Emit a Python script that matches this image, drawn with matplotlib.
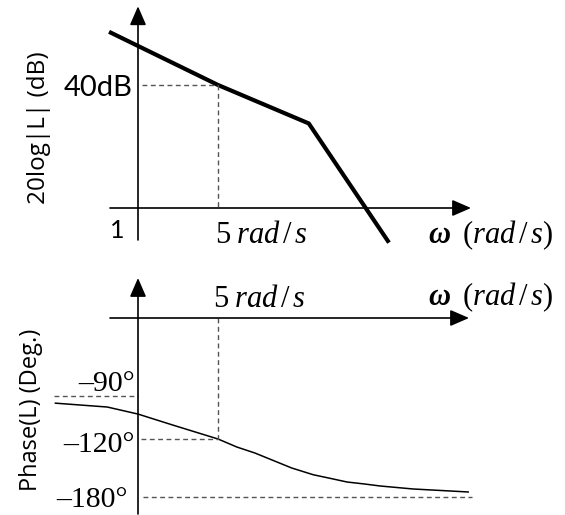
import numpy as np
import matplotlib
matplotlib.use("Agg")
import matplotlib.pyplot as plt

plt.rcParams['mathtext.fontset'] = 'custom'
plt.rcParams['mathtext.rm'] = 'Liberation Serif'
plt.rcParams['mathtext.it'] = 'Liberation Serif:italic'
plt.rcParams['mathtext.bf'] = 'Liberation Serif:bold:italic'

# ---------------- data ----------------
mag_w = [0.58, 5, 31, 152]            # rad/s
mag_db = [57, 40, 27.5, -10.7]        # dB

phase_w = [0.19, 0.54, 1, 2.0, 5, 7.3, 10.5, 22, 34, 46, 67, 96, 130, 252, 765]
phase_deg = [-95, -97.7, -102.6, -110.2, -120, -128.3, -134.5, -150, -157,
             -160.3, -164.5, -166.6, -168.6, -171.7, -174.8]

mark_w = 5            # rad/s
mark_db = 40          # dB
mark_phase = -120     # deg
phase_levels = [-90, -120, -180]
phase_labels = ['\u201390\u00b0', '\u2013120\u00b0', '\u2013180\u00b0']

# ---------------- layout ----------------
W, H = 565, 515
fig = plt.figure(figsize=(W / 100, H / 100), dpi=100)

def px(x, y):
    return x / W, 1 - y / H

X0 = 138.0        # pixel of w = 1
PPD = 114.5       # pixels per decade
def w_at(xpix):
    return 10 ** ((xpix - X0) / PPD)

xlim = (w_at(0), w_at(W))

# magnitude panel: pixel rows 0..260
ax1 = fig.add_axes([0, 1 - 260 / H, 1, 260 / H])
ax1.set_xscale('log')
ax1.set_xlim(*xlim)
DB0, PPDB = 208.0, 3.075
ax1.set_ylim(-(260 - DB0) / PPDB, DB0 / PPDB)
ax1.axis('off')

# phase panel: pixel rows 260..515, nonlinear schematic scale
ax2 = fig.add_axes([0, 0, 1, 255 / H])
ax2.set_xscale('log')
ax2.set_xlim(*xlim)
anc_deg = np.array([-1180.0, -180, -120, -90, 0, 1090])
anc_pos = np.array([-179 - 1000 * 58 / 60, -179, -121, -78, 0, 1090 * 78 / 90])
fwd = lambda d: np.interp(d, anc_deg, anc_pos)
inv = lambda p: np.interp(p, anc_pos, anc_deg)
ax2.set_yscale('function', functions=(fwd, inv))
ax2.set_ylim(inv(-197), inv(58))
ax2.axis('off')

arrow = dict(arrowstyle='-|>,head_length=1.15,head_width=0.5', mutation_scale=10,
             lw=1.2, color='black', shrinkA=0, shrinkB=0)
dash = dict(color='#555555', lw=1.0, ls=(0, (3.5, 2.5)))

# ---- magnitude axes
ax1.annotate('', xy=(w_at(471), 0), xytext=(w_at(110), 0), arrowprops=arrow)
ax1.annotate('', xy=(1, 65.6), xytext=(1, -10.4), arrowprops=arrow)
ax1.plot(mag_w, mag_db, color='black', lw=3.0, solid_joinstyle='miter')
ax1.plot([w_at(142), mark_w], [mark_db, mark_db], **dash)
ax1.plot([mark_w, mark_w], [mark_db, 0], **dash)

# ---- phase axes
ax2.annotate('', xy=(w_at(469), 0), xytext=(w_at(110), 0), arrowprops=arrow)
ax2.annotate('', xy=(1, inv(40)), xytext=(1, inv(-196)), arrowprops=arrow)
ax2.plot(phase_w, phase_deg, color='black', lw=1.1, solid_joinstyle='round')
ax2.plot([w_at(54), 1], [phase_levels[0]] * 2, **dash)
ax2.plot([w_at(141), mark_w], [mark_phase] * 2, **dash)
ax2.plot([mark_w, mark_w], [0, mark_phase], **dash)
ax2.plot([w_at(143), w_at(472)], [phase_levels[2]] * 2, **dash)

# ---------------- text ----------------
sans = 'Open Sans'
fig.text(*px(133, 96), '40dB', family='Lato', fontsize=21, ha='right', va='baseline')
fig.text(*px(117, 238), '1', family='Lato', fontsize=18, ha='center', va='baseline')
fig.text(*px(39, 128), '20log|L| (dB)', family=sans, fontsize=17.5, rotation=90,
         ha='center', va='center')
fig.text(*px(31, 410), 'Phase(L) (Deg.)', family=sans, fontsize=17, rotation=90,
         ha='center', va='center')

lab5 = r'$5\;rad\,/\,s$'
labw = r'$\mathbf{\omega}\;\;\mathrm{(}rad\,/\,s\mathrm{)}$'
fig.text(*px(261, 243), lab5, fontsize=22, ha='center', va='baseline')
fig.text(*px(491, 243), labw, fontsize=22, ha='center', va='baseline')
fig.text(*px(259, 307), lab5, fontsize=22, ha='center', va='baseline')
fig.text(*px(491, 305), labw, fontsize=22, ha='center', va='baseline')

for lab, (xr, yb) in zip(phase_labels, [(135, 391), (135, 452), (128, 507)]):
    fig.text(*px(xr, yb), lab, family='Liberation Serif', fontsize=21.5,
             ha='right', va='baseline')

fig.savefig('out.png', dpi=100, facecolor='white')
